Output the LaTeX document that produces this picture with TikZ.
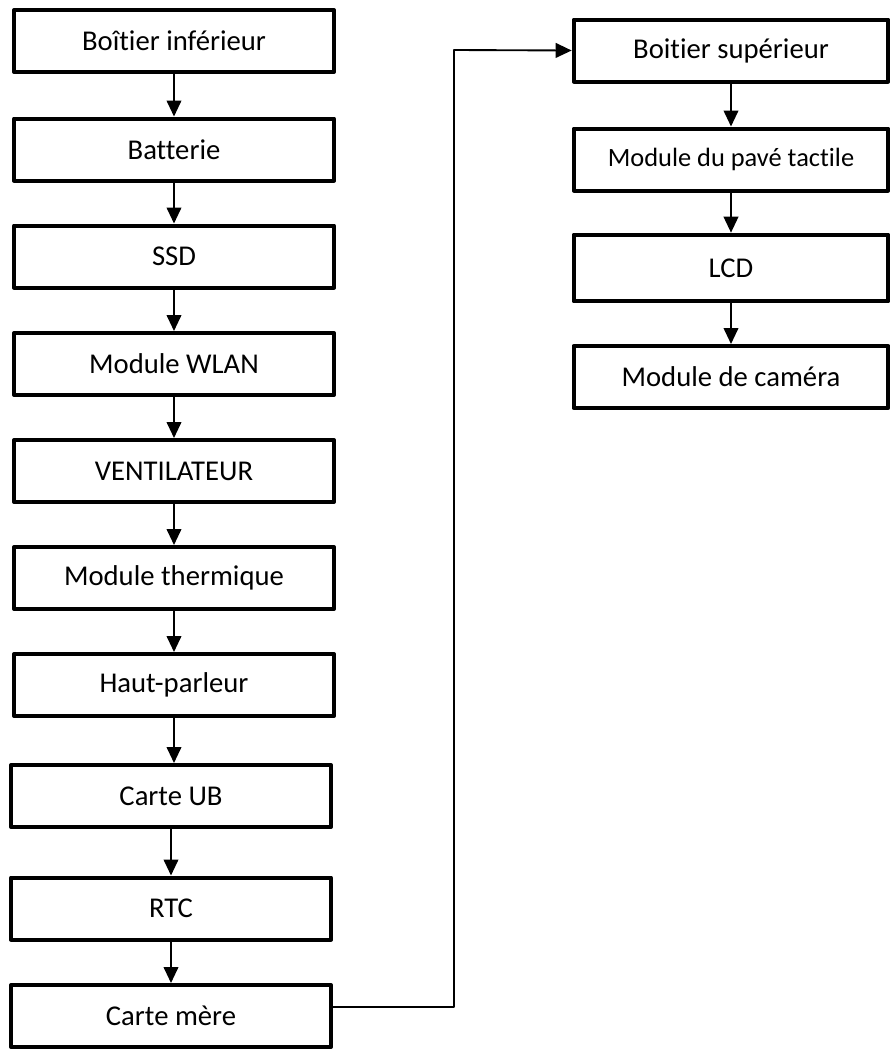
\documentclass[tikz,border=0pt]{standalone}
\usepackage{fontspec}
\setmainfont[Ligatures=NoCommon]{Carlito}
\usetikzlibrary{arrows.meta}
\begin{document}
\begin{tikzpicture}[x=0.75pt,y=-0.75pt, line join=round, line cap=round,
	>={Triangle[length=12pt,width=11pt]},
	etape/.style={draw, line width=3pt, minimum width=240pt, minimum height=46.5pt, inner sep=0pt, font=\fontsize{21.5}{24}\selectfont},
	etapeb/.style={etape, minimum width=236pt},
	fleche/.style={->, line width=1.4pt}]
	\useasboundingbox (0,0) rectangle (892,1050);
	% colonne de gauche
	\node[etape] (bi) at (174,41) {Boîtier inférieur};
	\node[etape] (bat) at (174,149.5) {Batterie};
	\node[etape] (ssd) at (174,256.5) {SSD};
	\node[etape] (wlan) at (174,364) {Module WLAN};
	\node[etape] (vent) at (174,471) {VENTILATEUR};
	\node[etape] (therm) at (174,578) {Module thermique};
	\node[etape] (hp) at (174,685) {Haut-parleur};
	\node[etape] (ub) at (171,796) {Carte UB};
	\node[etape] (rtc) at (171,908.5) {RTC};
	\node[etape] (cm) at (171,1016) {Carte mère};
	% colonne de droite
	\node[etapeb] (bs) at (731,50.5) {Boitier supérieur};
	\node[etapeb, font=\fontsize{19.8}{22}\selectfont] (pave) at (731,159.5) {Module du pavé tactile};
	\node[etapeb, minimum height=50pt] (lcd) at (731,268) {LCD};
	\node[etapeb] (cam) at (731,377) {Module de caméra};
	\coordinate (coude) at (454,50);
	\draw[fleche] (bi) -- (bat);
	\draw[fleche] (bat) -- (ssd);
	\draw[fleche] (ssd) -- (wlan);
	\draw[fleche] (wlan) -- (vent);
	\draw[fleche] (vent) -- (therm);
	\draw[fleche] (therm) -- (hp);
	\draw[fleche] (hp.south -| 174,0) -- (ub.north -| 174,0);
	\draw[fleche] (ub) -- (rtc);
	\draw[fleche] (rtc) -- (cm);
	\draw[fleche] ([yshift=6.75pt]cm.east) -| (coude) -- (bs.west);
	\draw[fleche] (bs) -- (pave);
	\draw[fleche] (pave) -- (lcd);
	\draw[fleche] (lcd) -- (cam);
\end{tikzpicture}
\end{document}
